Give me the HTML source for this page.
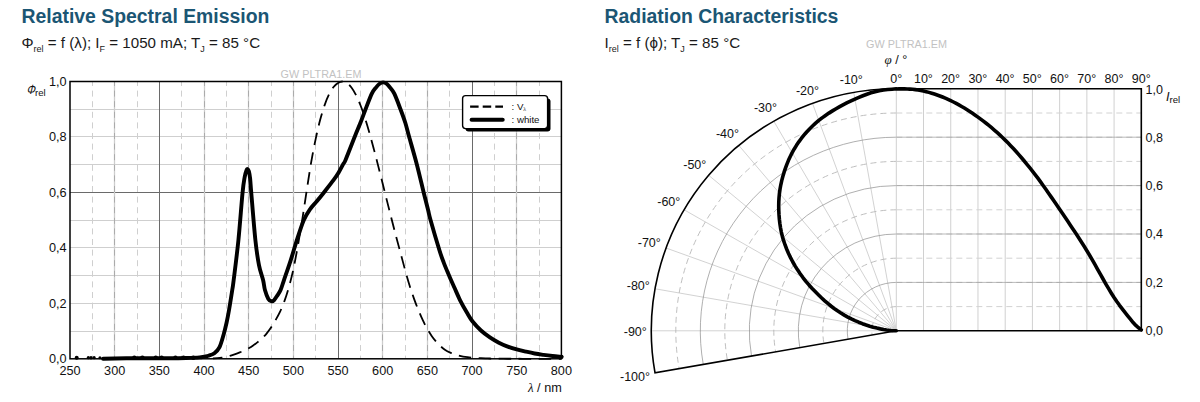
<!DOCTYPE html>
<html><head><meta charset="utf-8"><title>Charts</title>
<style>
html,body{margin:0;padding:0;background:#fff;}
body{width:1200px;height:402px;overflow:hidden;position:relative;font-family:"Liberation Sans",sans-serif;}
svg{position:absolute;left:0;top:0;}
svg text{font-family:"Liberation Sans",sans-serif;}
.t{position:absolute;white-space:nowrap;font-family:"Liberation Sans",sans-serif;}
.h{font-weight:bold;font-size:19.4px;color:#1b5674;line-height:20px;}
.s{font-size:15.15px;color:#1a1a1a;line-height:18px;}
.s sub{font-size:9px;vertical-align:baseline;position:relative;top:4.5px;}
</style></head><body>
<div class="t h" style="left:21.5px;top:5.9px;">Relative Spectral Emission</div>
<div class="t s" style="left:21.5px;top:33.6px;">&#934;<sub>rel</sub> = f (&#955;); I<sub>F</sub> = 1050 mA; T<sub>J</sub> = 85 &#176;C</div>
<div class="t h" style="left:604.5px;top:5.9px;">Radiation Characteristics</div>
<div class="t s" style="left:604.5px;top:33.6px;">I<sub>rel</sub> = f (&#981;); T<sub>J</sub> = 85 &#176;C</div>
<svg width="1200" height="402" viewBox="0 0 1200 402">
<g fill="#111">
<line x1="70" y1="331.5" x2="561.4" y2="331.5" stroke="#cfcfcf" stroke-width="1"/>
<line x1="70" y1="303.5" x2="561.4" y2="303.5" stroke="#cfcfcf" stroke-width="1"/>
<line x1="70" y1="275.5" x2="561.4" y2="275.5" stroke="#cfcfcf" stroke-width="1"/>
<line x1="70" y1="247.5" x2="561.4" y2="247.5" stroke="#cfcfcf" stroke-width="1"/>
<line x1="70" y1="220.5" x2="561.4" y2="220.5" stroke="#cfcfcf" stroke-width="1"/>
<line x1="70" y1="192.5" x2="561.4" y2="192.5" stroke="#6a6a6a" stroke-width="1"/>
<line x1="70" y1="164.5" x2="561.4" y2="164.5" stroke="#cfcfcf" stroke-width="1"/>
<line x1="70" y1="136.5" x2="561.4" y2="136.5" stroke="#cfcfcf" stroke-width="1"/>
<line x1="70" y1="109.5" x2="561.4" y2="109.5" stroke="#cfcfcf" stroke-width="1"/>
<line x1="92.5" y1="81.5" x2="92.5" y2="358.8" stroke="#cfcfcf" stroke-width="1" stroke-dasharray="6 4.6" stroke-dashoffset="1.5"/>
<line x1="114.5" y1="81.5" x2="114.5" y2="358.8" stroke="#cdcdcd" stroke-width="1.3"/>
<line x1="114.5" y1="81.5" x2="114.5" y2="358.8" stroke="#ababab" stroke-width="1" stroke-dasharray="6 4.6" stroke-dashoffset="1.5"/>
<line x1="137.5" y1="81.5" x2="137.5" y2="358.8" stroke="#cfcfcf" stroke-width="1" stroke-dasharray="6 4.6" stroke-dashoffset="1.5"/>
<line x1="159.5" y1="81.5" x2="159.5" y2="358.8" stroke="#6a6a6a" stroke-width="1"/>
<line x1="181.5" y1="81.5" x2="181.5" y2="358.8" stroke="#cfcfcf" stroke-width="1" stroke-dasharray="6 4.6" stroke-dashoffset="1.5"/>
<line x1="204.5" y1="81.5" x2="204.5" y2="358.8" stroke="#cdcdcd" stroke-width="1.3"/>
<line x1="204.5" y1="81.5" x2="204.5" y2="358.8" stroke="#ababab" stroke-width="1" stroke-dasharray="6 4.6" stroke-dashoffset="1.5"/>
<line x1="226.5" y1="81.5" x2="226.5" y2="358.8" stroke="#cfcfcf" stroke-width="1" stroke-dasharray="6 4.6" stroke-dashoffset="1.5"/>
<line x1="248.5" y1="81.5" x2="248.5" y2="358.8" stroke="#cdcdcd" stroke-width="1.3"/>
<line x1="248.5" y1="81.5" x2="248.5" y2="358.8" stroke="#ababab" stroke-width="1" stroke-dasharray="6 4.6" stroke-dashoffset="1.5"/>
<line x1="271.5" y1="81.5" x2="271.5" y2="358.8" stroke="#cfcfcf" stroke-width="1" stroke-dasharray="6 4.6" stroke-dashoffset="1.5"/>
<line x1="293.5" y1="81.5" x2="293.5" y2="358.8" stroke="#cdcdcd" stroke-width="1.3"/>
<line x1="293.5" y1="81.5" x2="293.5" y2="358.8" stroke="#ababab" stroke-width="1" stroke-dasharray="6 4.6" stroke-dashoffset="1.5"/>
<line x1="315.5" y1="81.5" x2="315.5" y2="358.8" stroke="#cfcfcf" stroke-width="1" stroke-dasharray="6 4.6" stroke-dashoffset="1.5"/>
<line x1="338.5" y1="81.5" x2="338.5" y2="358.8" stroke="#6a6a6a" stroke-width="1"/>
<line x1="360.5" y1="81.5" x2="360.5" y2="358.8" stroke="#cfcfcf" stroke-width="1" stroke-dasharray="6 4.6" stroke-dashoffset="1.5"/>
<line x1="382.5" y1="81.5" x2="382.5" y2="358.8" stroke="#cdcdcd" stroke-width="1.3"/>
<line x1="382.5" y1="81.5" x2="382.5" y2="358.8" stroke="#ababab" stroke-width="1" stroke-dasharray="6 4.6" stroke-dashoffset="1.5"/>
<line x1="405.5" y1="81.5" x2="405.5" y2="358.8" stroke="#cfcfcf" stroke-width="1" stroke-dasharray="6 4.6" stroke-dashoffset="1.5"/>
<line x1="427.5" y1="81.5" x2="427.5" y2="358.8" stroke="#cdcdcd" stroke-width="1.3"/>
<line x1="427.5" y1="81.5" x2="427.5" y2="358.8" stroke="#ababab" stroke-width="1" stroke-dasharray="6 4.6" stroke-dashoffset="1.5"/>
<line x1="449.5" y1="81.5" x2="449.5" y2="358.8" stroke="#cfcfcf" stroke-width="1" stroke-dasharray="6 4.6" stroke-dashoffset="1.5"/>
<line x1="472.5" y1="81.5" x2="472.5" y2="358.8" stroke="#6a6a6a" stroke-width="1"/>
<line x1="494.5" y1="81.5" x2="494.5" y2="358.8" stroke="#cfcfcf" stroke-width="1" stroke-dasharray="6 4.6" stroke-dashoffset="1.5"/>
<line x1="516.5" y1="81.5" x2="516.5" y2="358.8" stroke="#cdcdcd" stroke-width="1.3"/>
<line x1="516.5" y1="81.5" x2="516.5" y2="358.8" stroke="#ababab" stroke-width="1" stroke-dasharray="6 4.6" stroke-dashoffset="1.5"/>
<line x1="539.5" y1="81.5" x2="539.5" y2="358.8" stroke="#cfcfcf" stroke-width="1" stroke-dasharray="6 4.6" stroke-dashoffset="1.5"/>
<path d="M212.95 358.46C213.7 358.42 215.93 358.32 217.42 358.2C218.91 358.07 220.4 357.93 221.89 357.69C223.38 357.45 224.87 357.13 226.35 356.78C227.84 356.42 229.33 356.02 230.82 355.58C232.31 355.14 233.8 354.66 235.29 354.13C236.78 353.6 238.27 353.02 239.76 352.42C241.25 351.82 242.73 351.23 244.22 350.54C245.71 349.84 247.2 349.1 248.69 348.26C250.18 347.42 251.67 346.51 253.16 345.49C254.65 344.47 256.14 343.36 257.63 342.16C259.11 340.96 260.6 339.74 262.09 338.31C263.58 336.88 265.07 335.36 266.56 333.57C268.05 331.78 269.54 329.8 271.03 327.58C272.52 325.36 274.01 322.87 275.49 320.25C276.98 317.63 278.47 315.04 279.96 311.85C281.45 308.66 282.94 305.24 284.43 301.12C285.92 296.99 287.41 292.4 288.9 287.09C290.39 281.78 291.87 276.1 293.36 269.23C294.85 262.36 296.34 254.17 297.83 245.86C299.32 237.54 300.81 228.6 302.3 219.32C303.79 210.03 305.28 199.71 306.77 190.15C308.25 180.58 309.74 170.47 311.23 161.92C312.72 153.37 314.21 145.87 315.7 138.85C317.19 131.82 318.68 125.39 320.17 119.77C321.66 114.15 323.15 109.36 324.63 105.11C326.12 100.86 327.61 97.28 329.1 94.26C330.59 91.23 332.08 88.86 333.57 86.96C335.06 85.07 336.55 83.81 338.04 82.9C339.53 81.99 341.01 81.5 342.5 81.5C343.99 81.5 345.48 81.9 346.97 82.89C348.46 83.88 349.95 85.45 351.44 87.43C352.93 89.42 354.42 91.89 355.91 94.81C357.39 97.73 358.88 101.17 360.37 104.96C361.86 108.75 363.35 112.97 364.84 117.55C366.33 122.13 367.82 127.22 369.31 132.44C370.8 137.66 372.29 143.27 373.77 148.88C375.26 154.49 376.75 160.28 378.24 166.1C379.73 171.93 381.22 177.9 382.71 183.82C384.2 189.74 385.69 195.71 387.18 201.63C388.67 207.54 390.15 213.51 391.64 219.32C393.13 225.12 394.62 230.82 396.11 236.46C397.6 242.09 399.09 247.59 400.58 253.15C402.07 258.7 403.56 264.43 405.05 269.79C406.53 275.15 408.02 280.51 409.51 285.32C411 290.12 412.49 294.47 413.98 298.63C415.47 302.79 416.96 306.63 418.45 310.27C419.94 313.91 421.43 317.33 422.91 320.48C424.4 323.62 425.89 326.51 427.38 329.13C428.87 331.74 430.36 334.05 431.85 336.17C433.34 338.3 434.83 340.17 436.32 341.88C437.81 343.6 439.29 345.1 440.78 346.44C442.27 347.78 443.76 348.94 445.25 349.93C446.74 350.91 448.23 351.67 449.72 352.37C451.21 353.06 452.7 353.56 454.19 354.09C455.67 354.61 457.16 355.09 458.65 355.49C460.14 355.9 461.63 356.24 463.12 356.52C464.61 356.81 466.1 357.02 467.59 357.21C469.08 357.4 470.57 357.53 472.05 357.66C473.54 357.79 475.03 357.89 476.52 357.99C478.01 358.08 479.5 358.15 480.99 358.22C482.48 358.29 483.97 358.34 485.46 358.39C486.95 358.44 488.43 358.48 489.92 358.51C491.41 358.54 492.9 358.57 494.39 358.59C495.88 358.62 497.37 358.64 498.86 358.66C500.35 358.67 501.84 358.69 503.33 358.7C504.81 358.71 506.3 358.72 507.79 358.73C509.28 358.74 510.77 358.75 512.26 358.75C513.75 358.76 514.49 358.76 516.73 358.77C518.96 358.77 522.68 358.78 525.66 358.78C528.64 358.79 531.62 358.79 534.6 358.79C537.57 358.79 539.06 358.79 543.53 358.8C548 358.8 558.42 358.8 561.4 358.8" fill="none" stroke="#000" stroke-width="1.8" stroke-dasharray="12.5 7.5" stroke-dashoffset="3" stroke-linecap="butt"/>
<path d="M103.06 358.8C104.99 358.75 109.76 358.62 114.67 358.52C119.59 358.43 126.59 358.29 132.54 358.25C138.5 358.2 144.45 358.25 150.41 358.25C156.37 358.25 162.32 358.29 168.28 358.25C174.24 358.2 180.94 358.11 186.15 357.97C191.36 357.83 196.57 357.64 199.55 357.41C202.53 357.18 202.53 356.86 204.02 356.58C205.51 356.3 206.76 356.3 208.49 355.75C210.21 355.2 212.57 354.64 214.38 353.25C216.2 351.87 217.87 350.48 219.39 347.43C220.9 344.38 222.29 339.11 223.5 334.95C224.7 330.79 225.7 326.63 226.62 322.47C227.55 318.31 228.1 315.4 229.03 310C229.97 304.59 231.48 295.02 232.25 290.03C233.03 285.04 232.65 288.37 233.68 280.05C234.71 271.73 236.94 254.63 238.42 240.12C239.89 225.6 241.48 203.47 242.53 192.97C243.57 182.48 244 180.96 244.67 177.17C245.34 173.38 246.04 171.58 246.55 170.24C247.05 168.9 247.32 168.94 247.71 169.13C248.1 169.31 248.47 169.77 248.87 171.35C249.27 172.92 249.72 174.95 250.12 178.56C250.52 182.16 250.4 182.71 251.28 192.97C252.16 203.23 254.11 228.1 255.39 240.12C256.67 252.13 257.69 258.42 258.97 265.07C260.25 271.73 262.08 275.89 263.08 280.05C264.07 284.21 264.07 286.89 264.95 290.03C265.83 293.17 267.24 297.03 268.35 298.9C269.45 300.77 270.6 301.08 271.56 301.26C272.53 301.45 273.2 300.96 274.15 300.01C275.11 299.06 276.21 297.24 277.28 295.58C278.35 293.91 279.47 292.62 280.59 290.03C281.7 287.44 282.3 284.99 283.98 280.05C285.67 275.1 288.54 267.01 290.68 260.36C292.83 253.7 294.67 246.82 296.85 240.12C299.02 233.41 301.54 225.28 303.73 220.15C305.92 215.02 307.84 212.43 309.98 209.34C312.13 206.24 314.3 204.34 316.59 201.57C318.89 198.8 320.9 196.3 323.74 192.7C326.59 189.09 331.17 183.32 333.66 179.94C336.15 176.57 337.1 175.04 338.66 172.45C340.23 169.87 341.89 166.49 343.04 164.41C344.19 162.33 343.56 164.67 345.54 159.98C347.52 155.28 352.42 142.51 354.92 136.27C357.42 130.03 358.78 127.05 360.55 122.54C362.32 118.03 363.68 114.04 365.55 109.23C367.43 104.42 370.08 97.31 371.81 93.7C373.54 90.1 374.62 89.26 375.92 87.6C377.21 85.94 378.39 84.6 379.58 83.72C380.77 82.84 381.89 82.33 383.07 82.33C384.24 82.33 385.46 82.84 386.64 83.72C387.82 84.6 388.84 85.94 390.12 87.6C391.41 89.26 392.6 90.1 394.32 93.7C396.05 97.31 398.67 104.42 400.49 109.23C402.31 114.04 403.81 118.03 405.22 122.54C406.64 127.05 407.04 129.29 408.98 136.27C410.91 143.25 414.38 155.01 416.84 164.41C419.3 173.82 421.84 185.1 423.72 192.7C425.59 200.3 426.95 205.41 428.1 210C429.24 214.59 428.72 213.57 430.6 220.23C432.47 226.9 437.17 242.93 439.35 249.99C441.54 257.04 442.06 258.2 443.73 262.58C445.4 266.95 447.59 272.09 449.36 276.25C451.13 280.41 452.59 283.57 454.36 287.53C456.14 291.49 457.91 295.85 459.99 300.01C462.08 304.17 464.8 308.95 466.87 312.49C468.94 316.03 470.06 318.25 472.41 321.25C474.76 324.26 478.07 327.82 480.99 330.52C483.91 333.21 486.95 335.41 489.92 337.45C492.9 339.48 495.88 341.19 498.86 342.72C501.84 344.24 504.81 345.49 507.79 346.6C510.77 347.71 513.75 348.54 516.73 349.37C519.71 350.2 522.68 350.9 525.66 351.59C528.64 352.28 531.62 352.98 534.6 353.53C537.57 354.09 540.55 354.5 543.53 354.92C546.51 355.33 549.49 355.7 552.47 356.03C555.44 356.35 559.91 356.72 561.4 356.86" fill="none" stroke="#000" stroke-width="3.9" stroke-linecap="round" stroke-linejoin="round"/>
<circle cx="76.7" cy="357.69" r="2.0" fill="#000"/>
<circle cx="88.32" cy="357.69" r="1.6" fill="#000"/>
<circle cx="91" cy="357.69" r="1.7" fill="#000"/>
<circle cx="94.12" cy="357.69" r="1.6" fill="#000"/>
<circle cx="99.93" cy="357.69" r="1.5" fill="#000"/>
<circle cx="134.33" cy="357.69" r="2.2" fill="#000"/>
<circle cx="142.37" cy="357.69" r="2.3" fill="#000"/>
<circle cx="155.77" cy="357.69" r="2.2" fill="#000"/>
<circle cx="161.58" cy="357.69" r="2.2" fill="#000"/>
<circle cx="175.43" cy="357.69" r="2.2" fill="#000"/>
<circle cx="183.47" cy="357.69" r="2.2" fill="#000"/>
<circle cx="193.3" cy="357.69" r="2.2" fill="#000"/>
<circle cx="561.4" cy="356.86" r="2.2" fill="#000"/>
<rect x="70" y="81.5" width="491.4" height="277.3" fill="none" stroke="#000" stroke-width="1.5"/>
<rect x="465.5" y="98.5" width="85" height="33" rx="3" fill="#000"/>
<rect x="462.6" y="95.6" width="85" height="33" rx="3" fill="#fff" stroke="#000" stroke-width="1.4"/>
<line x1="470.1" y1="106.6" x2="503" y2="106.6" stroke="#000" stroke-width="2.2" stroke-dasharray="8.5 4.1"/>
<line x1="471.6" y1="119.8" x2="502.7" y2="119.8" stroke="#000" stroke-width="4" stroke-linecap="round"/>
<text x="511.5" y="109.6" font-size="9.7">: V<tspan font-size="5.8" dy="1.5" font-family="Liberation Serif">&#955;</tspan></text>
<text x="511.5" y="122.8" font-size="9.7">: white</text>
<text x="70" y="375.3" text-anchor="middle" font-size="12.7">250</text>
<text x="114.67" y="375.3" text-anchor="middle" font-size="12.7">300</text>
<text x="159.35" y="375.3" text-anchor="middle" font-size="12.7">350</text>
<text x="204.02" y="375.3" text-anchor="middle" font-size="12.7">400</text>
<text x="248.69" y="375.3" text-anchor="middle" font-size="12.7">450</text>
<text x="293.36" y="375.3" text-anchor="middle" font-size="12.7">500</text>
<text x="338.04" y="375.3" text-anchor="middle" font-size="12.7">550</text>
<text x="382.71" y="375.3" text-anchor="middle" font-size="12.7">600</text>
<text x="427.38" y="375.3" text-anchor="middle" font-size="12.7">650</text>
<text x="472.05" y="375.3" text-anchor="middle" font-size="12.7">700</text>
<text x="516.73" y="375.3" text-anchor="middle" font-size="12.7">750</text>
<text x="561.4" y="375.3" text-anchor="middle" font-size="12.7">800</text>
<text x="66.6" y="363" text-anchor="end" font-size="12.7">0,0</text>
<text x="66.6" y="307.54" text-anchor="end" font-size="12.7">0,2</text>
<text x="66.6" y="252.08" text-anchor="end" font-size="12.7">0,4</text>
<text x="66.6" y="196.62" text-anchor="end" font-size="12.7">0,6</text>
<text x="66.6" y="141.16" text-anchor="end" font-size="12.7">0,8</text>
<text x="66.6" y="85.7" text-anchor="end" font-size="12.7">1,0</text>
<text transform="translate(26.2,94) skewX(-14) scale(0.82,1)" font-size="13.2">&#934;</text>
<text x="35" y="96" font-size="9.6">rel</text>
<text x="561.8" y="392.3" text-anchor="end" font-size="12.7"><tspan font-style="italic" font-family="Liberation Serif" font-size="13">&#955;</tspan> / nm</text>
<text x="321" y="78.3" text-anchor="middle" font-size="10.8" fill="#c2c2c2">GW PLTRA1.EM</text>
</g>
<g fill="#111">
<line x1="896.3" y1="330.8" x2="853.76" y2="92.48" stroke="#cdcdcd" stroke-width="0.9"/>
<line x1="896.3" y1="330.8" x2="812.51" y2="103.39" stroke="#cdcdcd" stroke-width="0.9"/>
<line x1="896.3" y1="330.8" x2="773.8" y2="121.22" stroke="#cdcdcd" stroke-width="0.9"/>
<line x1="896.3" y1="330.8" x2="738.82" y2="145.42" stroke="#cdcdcd" stroke-width="0.9"/>
<line x1="896.3" y1="330.8" x2="708.62" y2="175.25" stroke="#cdcdcd" stroke-width="0.9"/>
<line x1="896.3" y1="330.8" x2="684.12" y2="209.8" stroke="#cdcdcd" stroke-width="0.9"/>
<line x1="896.3" y1="330.8" x2="666.08" y2="248.03" stroke="#cdcdcd" stroke-width="0.9"/>
<line x1="896.3" y1="330.8" x2="655.02" y2="288.78" stroke="#cdcdcd" stroke-width="0.9"/>
<line x1="896.3" y1="330.8" x2="651.3" y2="330.8" stroke="#cdcdcd" stroke-width="0.9"/>
<path d="M896.3 306.6A24.5 24.2 0 0 0 872.17 335" fill="none" stroke="#b8b8b8" stroke-width="0.9" stroke-dasharray="6 4"/>
<path d="M896.3 282.4A49 48.4 0 0 0 848.04 339.2" fill="none" stroke="#8c8c8c" stroke-width="0.7"/>
<path d="M896.3 258.2A73.5 72.6 0 0 0 823.92 343.41" fill="none" stroke="#b8b8b8" stroke-width="0.9" stroke-dasharray="6 4"/>
<path d="M896.3 234A98 96.8 0 0 0 799.79 347.61" fill="none" stroke="#8c8c8c" stroke-width="0.7"/>
<path d="M896.3 209.8A122.5 121 0 0 0 775.66 351.81" fill="none" stroke="#b8b8b8" stroke-width="0.9" stroke-dasharray="6 4"/>
<path d="M896.3 185.6A147 145.2 0 0 0 751.53 356.01" fill="none" stroke="#8c8c8c" stroke-width="0.7"/>
<path d="M896.3 161.4A171.5 169.4 0 0 0 727.41 360.22" fill="none" stroke="#b8b8b8" stroke-width="0.9" stroke-dasharray="6 4"/>
<path d="M896.3 137.2A196 193.6 0 0 0 703.28 364.42" fill="none" stroke="#8c8c8c" stroke-width="0.7"/>
<path d="M896.3 113A220.5 217.8 0 0 0 679.15 368.62" fill="none" stroke="#b8b8b8" stroke-width="0.9" stroke-dasharray="6 4"/>
<line x1="896.3" y1="88.8" x2="896.3" y2="330.8" stroke="#d0d0d0" stroke-width="1"/>
<line x1="923.52" y1="88.8" x2="923.52" y2="330.8" stroke="#d0d0d0" stroke-width="1"/>
<line x1="950.74" y1="88.8" x2="950.74" y2="330.8" stroke="#d0d0d0" stroke-width="1"/>
<line x1="977.97" y1="88.8" x2="977.97" y2="330.8" stroke="#d0d0d0" stroke-width="1"/>
<line x1="1005.19" y1="88.8" x2="1005.19" y2="330.8" stroke="#d0d0d0" stroke-width="1"/>
<line x1="1032.41" y1="88.8" x2="1032.41" y2="330.8" stroke="#d0d0d0" stroke-width="1"/>
<line x1="1059.63" y1="88.8" x2="1059.63" y2="330.8" stroke="#d0d0d0" stroke-width="1"/>
<line x1="1086.86" y1="88.8" x2="1086.86" y2="330.8" stroke="#d0d0d0" stroke-width="1"/>
<line x1="1114.08" y1="88.8" x2="1114.08" y2="330.8" stroke="#d0d0d0" stroke-width="1"/>
<line x1="896.3" y1="306.6" x2="1141.3" y2="306.6" stroke="#d2d2d2" stroke-width="1" stroke-dasharray="6 4"/>
<line x1="896.3" y1="282.4" x2="1141.3" y2="282.4" stroke="#d2d2d2" stroke-width="1" stroke-dasharray="6 4"/>
<line x1="896.3" y1="282.4" x2="1141.3" y2="282.4" stroke="#8c8c8c" stroke-width="0.6"/>
<line x1="896.3" y1="258.2" x2="1141.3" y2="258.2" stroke="#d2d2d2" stroke-width="1" stroke-dasharray="6 4"/>
<line x1="896.3" y1="234" x2="1141.3" y2="234" stroke="#d2d2d2" stroke-width="1" stroke-dasharray="6 4"/>
<line x1="896.3" y1="234" x2="1141.3" y2="234" stroke="#8c8c8c" stroke-width="0.6"/>
<line x1="896.3" y1="209.8" x2="1141.3" y2="209.8" stroke="#d2d2d2" stroke-width="1" stroke-dasharray="6 4"/>
<line x1="896.3" y1="185.6" x2="1141.3" y2="185.6" stroke="#d2d2d2" stroke-width="1" stroke-dasharray="6 4"/>
<line x1="896.3" y1="185.6" x2="1141.3" y2="185.6" stroke="#8c8c8c" stroke-width="0.6"/>
<line x1="896.3" y1="161.4" x2="1141.3" y2="161.4" stroke="#d2d2d2" stroke-width="1" stroke-dasharray="6 4"/>
<line x1="896.3" y1="137.2" x2="1141.3" y2="137.2" stroke="#d2d2d2" stroke-width="1" stroke-dasharray="6 4"/>
<line x1="896.3" y1="137.2" x2="1141.3" y2="137.2" stroke="#8c8c8c" stroke-width="0.6"/>
<line x1="896.3" y1="113" x2="1141.3" y2="113" stroke="#d2d2d2" stroke-width="1" stroke-dasharray="6 4"/>
<path d="M896.3 88.8A245 242 0 0 0 655.02 372.82L896.3 330.8L1141.3 330.8L1141.3 88.8L896.3 88.8" fill="none" stroke="#000" stroke-width="1.6" stroke-linejoin="miter"/>
<path d="M896.3 330.8L894.46 330.77L892.73 330.68L890.96 330.52L888.95 330.29L886.54 329.96L883.65 329.49L880.41 328.87L876.93 328.11L873.34 327.21L869.76 326.18L866.15 325.01L862.44 323.69L858.7 322.22L854.97 320.62L851.34 318.9L847.79 317.06L844.29 315.09L840.84 313L837.46 310.79L834.14 308.45L830.92 306.01L827.81 303.47L824.75 300.8L821.69 297.99L818.58 295L815.4 291.82L812.16 288.46L808.96 284.93L805.87 281.29L802.94 277.56L800.18 273.75L797.54 269.84L795.03 265.84L792.69 261.77L790.54 257.65L788.55 253.48L786.73 249.24L785.09 244.97L783.63 240.68L782.38 236.38L781.34 232.09L780.51 227.82L779.86 223.55L779.37 219.26L779.02 214.95L778.79 210.61L778.71 206.25L778.79 201.89L779.03 197.55L779.45 193.25L780.04 188.99L780.81 184.79L781.73 180.63L782.81 176.5L784.02 172.41L785.37 168.35L786.85 164.32L788.47 160.35L790.25 156.46L792.17 152.66L794.26 148.96L796.48 145.36L798.83 141.85L801.32 138.45L803.94 135.16L806.68 131.98L809.55 128.93L812.52 125.99L815.61 123.16L818.79 120.45L822.07 117.87L825.46 115.44L828.92 113.12L832.46 110.89L836.06 108.73L839.72 106.64L843.44 104.64L847.22 102.73L851.06 100.9L854.95 99.15L858.88 97.44L862.86 95.78L866.89 94.22L870.98 92.82L875.12 91.65L879.31 90.75L883.53 90.08L887.77 89.58L892.03 89.18L896.3 88.8L896.3 89.04L899.02 88.9L901.74 88.79L904.47 88.85L907.19 88.97L909.91 89.12L912.63 89.33L915.36 89.6L918.08 89.96L920.8 90.41L923.52 90.98L926.24 91.64L928.97 92.37L931.69 93.17L934.41 94.04L937.13 94.97L939.86 95.97L942.58 97.04L945.3 98.18L948.02 99.39L950.74 100.66L953.47 102L956.19 103.41L958.91 104.89L961.63 106.44L964.36 108.05L967.08 109.74L969.8 111.48L972.52 113.3L975.24 115.17L977.97 117.11L980.69 119.11L983.41 121.17L986.13 123.28L988.86 125.46L991.58 127.7L994.3 130.02L997.02 132.41L999.74 134.89L1002.47 137.45L1005.19 140.1L1007.91 142.85L1010.63 145.67L1013.36 148.58L1016.08 151.57L1018.8 154.64L1021.52 157.78L1024.24 161L1026.97 164.29L1029.69 167.65L1032.41 171.08L1035.13 174.6L1037.86 178.21L1040.58 181.92L1043.3 185.7L1046.02 189.55L1048.74 193.45L1051.47 197.39L1054.19 201.35L1056.91 205.33L1059.63 209.32L1062.36 213.3L1065.08 217.3L1067.8 221.33L1070.52 225.38L1073.24 229.47L1075.97 233.6L1078.69 237.79L1081.41 242.02L1084.13 246.33L1086.86 250.7L1089.58 255.2L1092.3 259.88L1095.02 264.66L1097.74 269.52L1100.47 274.4L1103.19 279.25L1105.91 284.04L1108.63 288.71L1111.36 293.21L1114.08 297.5L1116.8 301.52L1119.52 305.29L1122.24 308.88L1124.97 312.36L1127.69 315.8L1130.41 319.24L1133.13 322.53L1135.86 325.48L1138.58 327.79L1141.3 329.83" fill="none" stroke="#000" stroke-width="3.6" stroke-linecap="round" stroke-linejoin="round"/>
<text x="896.2" y="82.5" text-anchor="middle" font-size="12.5">0&#176;</text>
<text x="923.42" y="82.5" text-anchor="middle" font-size="12.5">10&#176;</text>
<text x="950.64" y="82.5" text-anchor="middle" font-size="12.5">20&#176;</text>
<text x="977.87" y="82.5" text-anchor="middle" font-size="12.5">30&#176;</text>
<text x="1005.09" y="82.5" text-anchor="middle" font-size="12.5">40&#176;</text>
<text x="1032.31" y="82.5" text-anchor="middle" font-size="12.5">50&#176;</text>
<text x="1059.53" y="82.5" text-anchor="middle" font-size="12.5">60&#176;</text>
<text x="1086.76" y="82.5" text-anchor="middle" font-size="12.5">70&#176;</text>
<text x="1113.98" y="82.5" text-anchor="middle" font-size="12.5">80&#176;</text>
<text x="1141.2" y="82.5" text-anchor="middle" font-size="12.5">90&#176;</text>
<text x="851.3" y="84.3" text-anchor="middle" font-size="12.5">-10&#176;</text>
<text x="807.5" y="95.3" text-anchor="middle" font-size="12.5">-20&#176;</text>
<text x="765.5" y="111.8" text-anchor="middle" font-size="12.5">-30&#176;</text>
<text x="727.5" y="137.8" text-anchor="middle" font-size="12.5">-40&#176;</text>
<text x="694.8" y="169.1" text-anchor="middle" font-size="12.5">-50&#176;</text>
<text x="668.8" y="205.6" text-anchor="middle" font-size="12.5">-60&#176;</text>
<text x="649.3" y="246.8" text-anchor="middle" font-size="12.5">-70&#176;</text>
<text x="638.3" y="290.3" text-anchor="middle" font-size="12.5">-80&#176;</text>
<text x="635.3" y="336" text-anchor="middle" font-size="12.5">-90&#176;</text>
<text x="635" y="381.3" text-anchor="middle" font-size="12.5">-100&#176;</text>
<text x="1145.5" y="335.1" font-size="12.5">0,0</text>
<text x="1145.5" y="286.7" font-size="12.5">0,2</text>
<text x="1145.5" y="238.3" font-size="12.5">0,4</text>
<text x="1145.5" y="189.9" font-size="12.5">0,6</text>
<text x="1145.5" y="141.5" font-size="12.5">0,8</text>
<text x="1145.5" y="94.1" font-size="12.5">1,0</text>
<text x="1166" y="100.5" font-size="12.5"><tspan font-style="italic" font-size="12.8">I</tspan><tspan font-size="9.6" dy="2.5">rel</tspan></text>
<text x="896" y="64" text-anchor="middle" font-size="12.7"><tspan font-style="italic" font-family="Liberation Serif" font-size="13">&#966;</tspan> / &#176;</text>
<text x="906.5" y="48" text-anchor="middle" font-size="10.8" fill="#c2c2c2">GW PLTRA1.EM</text>
</g>
</svg>
</body></html>
